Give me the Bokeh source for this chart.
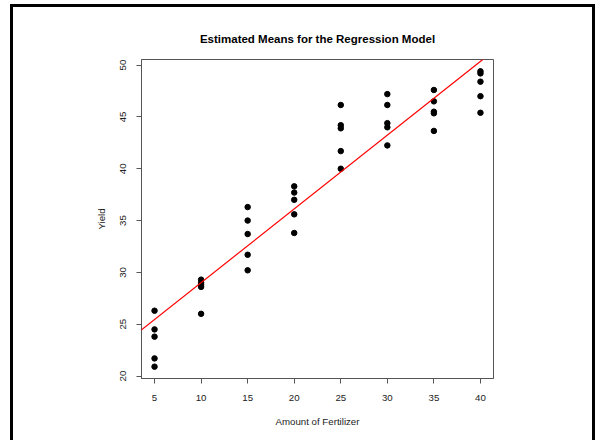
import numpy as np
from bokeh.plotting import figure
from bokeh.models import Range1d, FixedTicker, Slope, ColumnDataSource
from bokeh.embed import file_html
from bokeh.resources import INLINE

# Data
fertilizer = [5]*5 + [10]*5 + [15]*5 + [20]*5 + [25]*5 + [30]*5 + [35]*5 + [40]*5
yield_vals = [
    26.3, 24.5, 23.8, 21.7, 20.9,
    29.3, 29.0, 28.8, 28.6, 26.0,
    36.3, 35.0, 33.7, 31.7, 30.2,
    38.3, 37.7, 37.0, 35.6, 33.8,
    46.15, 44.2, 43.9, 41.7, 40.0,
    47.2, 46.15, 44.4, 44.0, 42.25,
    47.6, 46.5, 45.5, 45.35, 43.65,
    49.4, 49.2, 48.4, 47.0, 45.4,
]
x_ticks = [5, 10, 15, 20, 25, 30, 35, 40]
y_ticks = [20, 25, 30, 35, 40, 45, 50]

title_text = "Estimated Means for the Regression Model"
x_label = "Amount of Fertilizer"
y_label = "Yield"

# least squares fit
slope, intercept = np.polyfit(fertilizer, yield_vals, 1)

# R-style 4% range extension
def rrange(v):
    lo, hi = min(v), max(v)
    pad = (hi - lo) * 0.04
    return lo - pad, hi + pad

xr = rrange(fertilizer)
yr = rrange(yield_vals)

FONT = "Liberation Sans"
AXC = "#555555"

p = figure(width=585, height=436, output_backend="svg", toolbar_location=None,
           x_range=Range1d(*xr), y_range=Range1d(*yr),
           min_border_left=128, min_border_right=105,
           min_border_top=52, min_border_bottom=65,
           title=title_text)
p.styles = {"border-top": "3px solid black", "border-left": "3px solid black",
            "border-right": "3px solid black", "margin-left": "10px",
            "margin-top": "4px"}

p.title.align = "center"
p.title.text_font = FONT
p.title.text_font_size = "11.5px"
p.title.text_font_style = "bold"
p.title.text_color = "black"
p.title.standoff = 29

p.grid.visible = False
p.background_fill_color = "white"
p.border_fill_color = "white"
p.outline_line_color = AXC
p.outline_line_width = 1

for ax in (p.xaxis[0], p.yaxis[0]):
    ax.axis_line_color = AXC
    ax.major_tick_line_color = AXC
    ax.minor_tick_line_color = None
    ax.major_tick_in = 0
    ax.major_tick_out = 5
    ax.major_label_text_font = FONT
    ax.major_label_text_font_size = "9.7px"
    ax.major_label_text_color = "#222222"
    ax.axis_label_text_font = FONT
    ax.axis_label_text_font_size = "9.7px"
    ax.axis_label_text_font_style = "normal"
    ax.axis_label_text_color = "#222222"

p.xaxis.ticker = FixedTicker(ticks=x_ticks)
p.yaxis.ticker = FixedTicker(ticks=y_ticks)
p.xaxis.axis_label = x_label
p.yaxis.axis_label = y_label
p.yaxis.major_label_orientation = "vertical"
p.xaxis.major_label_standoff = 11
p.yaxis.major_label_standoff = 10
p.xaxis.axis_label_standoff = 12
p.yaxis.axis_label_standoff = 11

src = ColumnDataSource(data=dict(x=fertilizer, y=yield_vals))
p.scatter("x", "y", source=src, size=5.5, color="black")

p.add_layout(Slope(gradient=slope, y_intercept=intercept, line_color="red", line_width=1.2))

open("out.html", "w").write(file_html(p, INLINE))
